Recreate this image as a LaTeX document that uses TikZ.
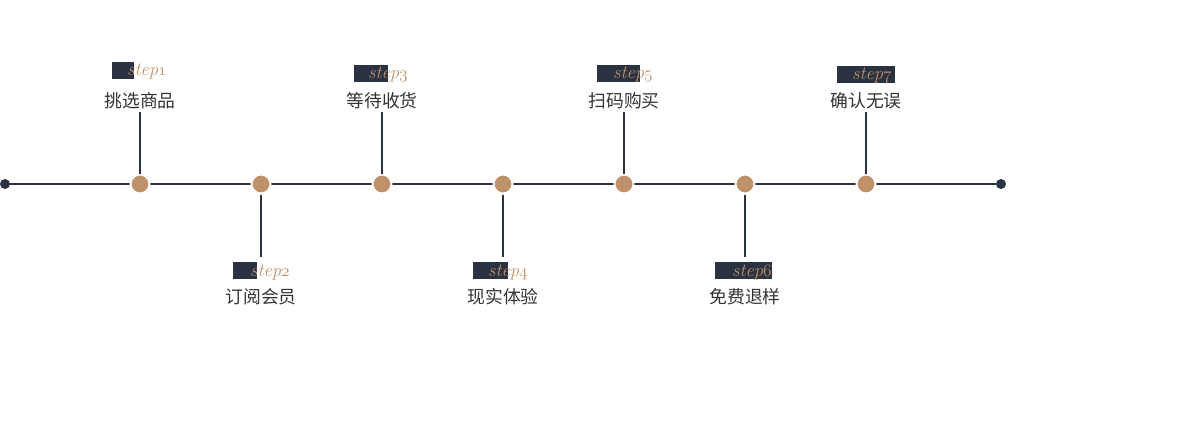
\documentclass[tikz,border=0pt]{standalone}
\usepackage{fontspec}
\newfontfamily\cjk{Noto Sans CJK SC}
\usetikzlibrary{positioning}
\definecolor{navy}{HTML}{2A3242}
\definecolor{tan}{HTML}{BF9169}
\definecolor{ink}{HTML}{333333}
\newcommand\stepno[1]{step{\usefont{OML}{cmm}{m}{it}#1}}

\begin{document}
\begin{tikzpicture}[x=1pt, y=-1pt, on grid, node distance=83pt,
  dot/.style={circle, fill=tan, draw=white, line width=2pt, minimum size=19pt, inner sep=0pt},
  enddot/.style={circle, fill=navy, minimum size=10pt, inner sep=0pt},
  lab/.style={text=ink, font=\cjk\fontsize{17.8}{20}\selectfont, inner sep=0pt},
  tag/.style={rectangle, fill=navy, minimum height=17pt, inner sep=0pt, anchor=west},
  steptxt/.style={text=tan, font=\fontsize{18.5}{20}\selectfont\itshape, inner sep=0pt, anchor=base west},
  conn/.style={navy, line width=1.6pt}]
\useasboundingbox (0,0) rectangle (1200,426);

% timeline
\node[enddot] (s) at (5,184) {};
\node[enddot] (e) at (1001,184) {};
\draw[conn] (s) -- (e);

\node[dot] (d1) at (140,184) {};
\node[dot] (d2) at (261,184) {};
\node[dot] (d3) at (382,184) {};
\node[dot] (d4) at (503,184) {};
\node[dot] (d5) at (624,184) {};
\node[dot] (d6) at (745,184) {};
\node[dot] (d7) at (866,184) {};

% labels above
\node[lab, above=of d1] (l1) {挑选商品};
\node[lab, above=of d3] (l3) {等待收货};
\node[lab, above=of d5] (l5) {扫码购买};
\node[lab, above=of d7] (l7) {确认无误};
% labels below
\node[lab, below=113pt of d2] (l2) {订阅会员};
\node[lab, below=113pt of d4] (l4) {现实体验};
\node[lab, below=113pt of d6] (l6) {免费退样};

% step tags
\node[tag, minimum width=22pt] (b1) at ([xshift=-28pt, yshift=31pt]l1.center) {};
\node[tag, minimum width=34pt] (b3) at ([xshift=-28pt, yshift=28pt]l3.center) {};
\node[tag, minimum width=43pt] (b5) at ([xshift=-27pt, yshift=28pt]l5.center) {};
\node[tag, minimum width=58pt] (b7) at ([xshift=-29pt, yshift=27pt]l7.center) {};
\node[tag, minimum width=24pt] (b2) at ([xshift=-28pt, yshift=26.5pt]l2.center) {};
\node[tag, minimum width=35pt] (b4) at ([xshift=-30pt, yshift=26.5pt]l4.center) {};
\node[tag, minimum width=57pt] (b6) at ([xshift=-30pt, yshift=26.5pt]l6.center) {};

\node[steptxt] (t1) at ([xshift=15pt, yshift=-5.5pt]b1.west) {\stepno{1}};
\node[steptxt] (t2) at ([xshift=17pt, yshift=-5.5pt]b2.west) {\stepno{2}};
\node[steptxt] (t3) at ([xshift=14pt, yshift=-5.5pt]b3.west) {\stepno{3}};
\node[steptxt] (t4) at ([xshift=15pt, yshift=-5.5pt]b4.west) {\stepno{4}};
\node[steptxt] (t5) at ([xshift=16pt, yshift=-5.5pt]b5.west) {\stepno{5}};
\node[steptxt] (t6) at ([xshift=17pt, yshift=-5.5pt]b6.west) {\stepno{6}};
\node[steptxt] (t7) at ([xshift=15pt, yshift=-5.5pt]b7.west) {\stepno{7}};

% connectors
\draw[conn, shorten >=3pt] (d1) -- (l1);
\draw[conn, shorten >=3pt] (d3) -- (l3);
\draw[conn, shorten >=3pt] (d5) -- (l5);
\draw[conn, shorten >=3pt] (d7) -- (l7);
\draw[conn, shorten >=5pt] (d2) -- (d2 |- b2.north);
\draw[conn, shorten >=5pt] (d4) -- (d4 |- b4.north);
\draw[conn, shorten >=5pt] (d6) -- (d6 |- b6.north);
\end{tikzpicture}
\end{document}
